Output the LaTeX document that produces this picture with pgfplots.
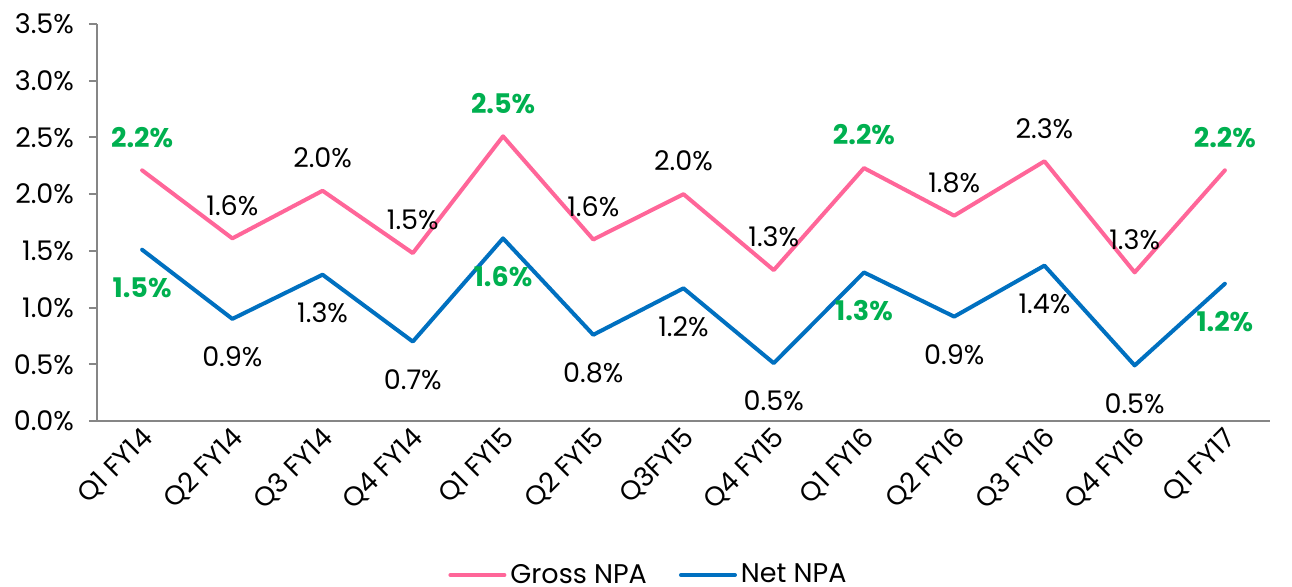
\documentclass[border=0pt]{standalone}
\usepackage{fontspec}
\setmainfont{Poppins}
\usepackage{pgfplots}
\pgfplotsset{compat=1.18}
\definecolor{grossc}{HTML}{FF6699}
\definecolor{netc}{HTML}{0070C0}
\definecolor{labg}{HTML}{00B050}
\definecolor{axgray}{HTML}{868686}
\protected\def\hl#1{\textcolor{labg}{\bfseries #1}}
\newcommand{\chartfont}{\fontsize{13.5}{16}\selectfont}

\begin{document}
\begin{tikzpicture}
\begin{axis}[
  scale only axis, width=586.5pt, height=198.5pt,
  xmin=-0.5, xmax=12.5, ymin=0, ymax=3.5,
  clip=false,
  axis lines*=left,
  axis line style={axgray, line width=1pt},
  tick align=outside, major tick length=4pt, minor tick length=4pt,
  ytick={0,0.5,...,3.5},
  yticklabels={0.0\%,0.5\%,1.0\%,1.5\%,2.0\%,2.5\%,3.0\%,3.5\%},
  ytick style={axgray, line width=1pt},
  xtick={0,...,12},
  xticklabels={Q1 FY14,Q2 FY14,Q3 FY14,Q4 FY14,Q1 FY15,Q2 FY15,Q3FY15,Q4 FY15,Q1 FY16,Q2 FY16,Q3 FY16,Q4 FY16,Q1 FY17},
  xtick style={draw=none},
  minor xtick={-0.5,0.5,...,12.5},
  minor x tick style={axgray, line width=1pt},
  tick label style={font=\chartfont},
  y tick label style={xshift=-4pt},
  x tick label style={rotate=45, anchor=east, xshift=4pt, yshift=-4pt},
  point meta=explicit symbolic,
  legend style={at={(0.471,-0.388)}, anchor=center, draw=none, fill=none,
    font=\chartfont, legend columns=2,
    /tikz/every even column/.append style={column sep=14pt}},
  legend image code/.code={\draw[#1, line cap=round] (0pt,0pt) -- (27pt,0pt);},
]
\addplot[grossc, line width=2pt, line cap=round, line join=round,
  nodes near coords,
  every node near coord/.append style={font=\chartfont, text=black, anchor=center, yshift=16.5pt}]
  coordinates {
  (0,2.21) [\hl{2.2\%}]
  (1,1.61) [1.6\%]
  (2,2.03) [2.0\%]
  (3,1.48) [1.5\%]
  (4,2.51) [\hl{2.5\%}]
  (5,1.60) [1.6\%]
  (6,2.00) [2.0\%]
  (7,1.33) [1.3\%]
  (8,2.23) [\hl{2.2\%}]
  (9,1.81) [1.8\%]
  (10,2.29) [2.3\%]
  (11,1.31) [1.3\%]
  (12,2.21) [\hl{2.2\%}]
  };
\addlegendentry{Gross NPA}
\addplot[netc, line width=2pt, line cap=round, line join=round,
  nodes near coords,
  every node near coord/.append style={font=\chartfont, text=black, anchor=center, yshift=-19pt}]
  coordinates {
  (0,1.51) [\hl{1.5\%}]
  (1,0.90) [0.9\%]
  (2,1.29) [1.3\%]
  (3,0.70) [0.7\%]
  (4,1.61) [\hl{1.6\%}]
  (5,0.76) [0.8\%]
  (6,1.17) [1.2\%]
  (7,0.51) [0.5\%]
  (8,1.31) [\hl{1.3\%}]
  (9,0.92) [0.9\%]
  (10,1.37) [1.4\%]
  (11,0.49) [0.5\%]
  (12,1.21) [\hl{1.2\%}]
  };
\addlegendentry{Net NPA}
\end{axis}
\pgfresetboundingbox
\path[use as bounding box] (-48.5pt,-83pt) rectangle (597.5pt,210.5pt);
\end{tikzpicture}
\end{document}
